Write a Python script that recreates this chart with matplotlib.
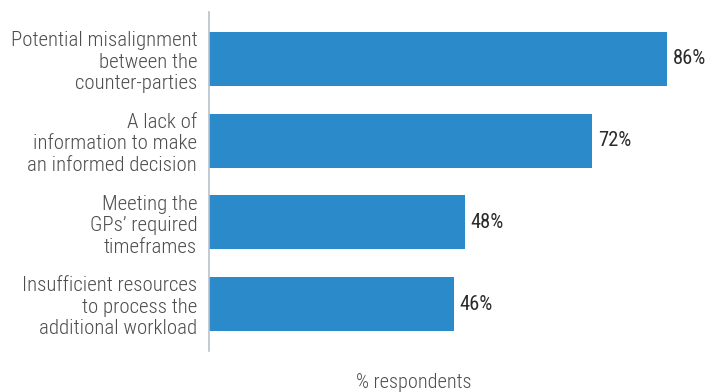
import matplotlib.pyplot as plt
import numpy as np

plt.rcParams['font.family'] = ['Roboto Condensed', 'Liberation Sans Narrow',
                               'Roboto', 'DejaVu Sans']

labels = [
    "Potential misalignment\nbetween the\ncounter-parties",
    "A lack of\ninformation to make\nan informed decision",
    "Meeting the\nGPs\u2019 required\ntimeframes",
    "Insufficient resources\nto process the\nadditional workload",
]
values = [86, 72, 48, 46]

bar_color = "#2b8bca"

fig = plt.figure(figsize=(7.16, 3.92), dpi=100)
ax = fig.add_axes([209 / 716, 1 - 351 / 392, (716 - 209) / 716, 339 / 392])

y = np.arange(len(values))
ax.barh(y, values, height=0.66, color=bar_color)
for yi, v in zip(y, values):
    ax.text(v + 1.1, yi, f"{v}%", va="center", ha="left",
            fontsize=14.8, color="#2a2a2a")

ax.set_xlim(0, 95.2)
ax.set_ylim(3.573, -0.573)
ax.set_yticks(y)
ax.set_yticklabels(labels, fontsize=15, color="#4d4d4d", linespacing=1.17,
                   fontweight="light")
ax.tick_params(axis="y", length=0, pad=8.5)
ax.set_xticks([])
for side in ["top", "right", "bottom"]:
    ax.spines[side].set_visible(False)
ax.spines["left"].set_color("#b8c2cc")
ax.spines["left"].set_linewidth(1.2)

fig.text(414 / 716, 1 - 382 / 392, "% respondents", ha="center", va="center",
         fontsize=14.6, color="#4d4d4d", fontweight="light")

fig.savefig("out.png", dpi=100)
